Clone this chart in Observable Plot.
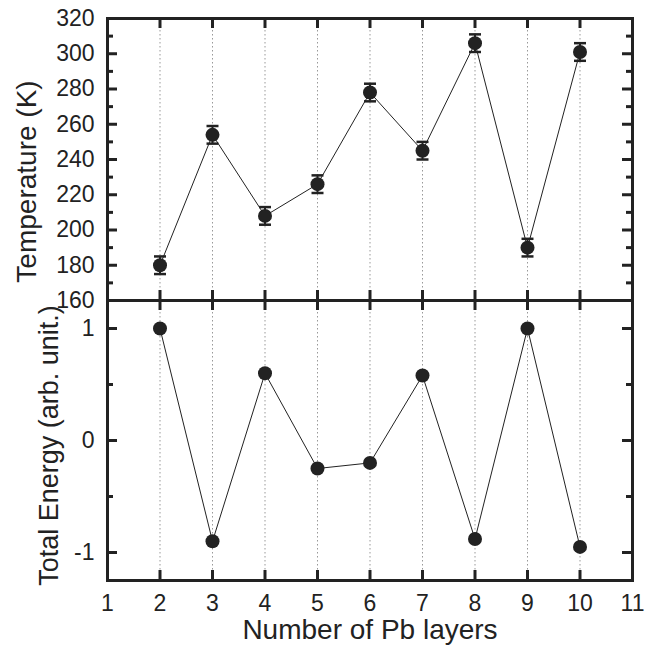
<!DOCTYPE html>
<html>
<head>
<meta charset="utf-8">
<script src="https://cdn.jsdelivr.net/npm/d3@7"></script>
<script src="https://cdn.jsdelivr.net/npm/@observablehq/plot@0.6"></script>
<style>
  html, body { margin: 0; padding: 0; background: white; }
  #chart { position: relative; width: 650px; height: 645px; }
  #chart svg { position: absolute; left: 0; }
</style>
</head>
<body>
<div id="chart"></div>
<script>
// ---- data ----
const layers = [2, 3, 4, 5, 6, 7, 8, 9, 10];
const temperature = [180, 254, 208, 226, 278, 245, 306, 190, 301];
const tempError = [5, 5, 5, 5, 5, 5, 5, 5, 5];
const energy = [1, -0.9, 0.6, -0.25, -0.2, 0.58, -0.88, 1, -0.95];

const xTicks = [1, 2, 3, 4, 5, 6, 7, 8, 9, 10, 11];
const tempTicks = [160, 180, 200, 220, 240, 260, 280, 300, 320];
const tempMinor = [170, 190, 210, 230, 250, 270, 290, 310];
const energyTicks = [-1, 0, 1];
const energyMinor = [-0.5, 0.5];

const xLabel = "Number of Pb layers";
const tempLabel = "Temperature (K)";
const energyLabel = "Total Energy (arb. unit.)";

const tempData = layers.map((x, i) => ({x, t: temperature[i], e: tempError[i]}));
const energyData = layers.map((x, i) => ({x, v: energy[i]}));

// ---- style ----
const ink = "#222";
const font = "'Liberation Sans', Arial, Helvetica, sans-serif";
const W = 650, ML = 107, MR = 18;
const FW = W - ML - MR;
const major = 10, minor = 6, tickW = 3;
const tickFont = 23, labelFont = 28;

const capSymbol = {
  draw(context, size) {
    const r = Math.sqrt(size / Math.PI);
    context.moveTo(-r, 0);
    context.lineTo(r, 0);
  }
};

function yTicksMarks(ticks, len) {
  return [
    Plot.tickY(ticks, {y: d => d, insetRight: FW - len, stroke: ink, strokeWidth: tickW}),
    Plot.tickY(ticks, {y: d => d, insetLeft: FW - len, stroke: ink, strokeWidth: tickW})
  ];
}
function xTicksMarks(fh) {
  return [
    Plot.tickX(xTicks, {x: d => d, insetBottom: fh - major, stroke: ink, strokeWidth: tickW}),
    Plot.tickX(xTicks, {x: d => d, insetTop: fh - major, stroke: ink, strokeWidth: tickW})
  ];
}

// ---- top panel ----
const topMT = 18, topH = 300;
const topFH = topH - topMT;
const topPlot = Plot.plot({
  width: W, height: topH,
  marginLeft: ML, marginRight: MR, marginTop: topMT, marginBottom: 0,
  style: {background: "transparent", overflow: "visible", fontFamily: font, color: ink},
  x: {domain: [1, 11], axis: null},
  y: {domain: [160, 320], axis: null},
  marks: [
    Plot.ruleX(layers, {x: d => d, stroke: "#999", strokeWidth: 1, strokeDasharray: "1.5,2.5"}),
    Plot.line(tempData, {x: "x", y: "t", stroke: ink, strokeWidth: 1}),
    Plot.ruleX(tempData, {x: "x", y1: d => d.t - d.e, y2: d => d.t + d.e, stroke: ink, strokeWidth: 2}),
    Plot.dot(tempData, {x: "x", y: d => d.t + d.e, symbol: capSymbol, r: 6, fill: "none", stroke: ink, strokeWidth: 2.5}),
    Plot.dot(tempData, {x: "x", y: d => d.t - d.e, symbol: capSymbol, r: 6, fill: "none", stroke: ink, strokeWidth: 2.5}),
    Plot.dot(tempData, {x: "x", y: "t", r: 7, fill: ink, stroke: null}),
    ...yTicksMarks(tempTicks, major),
    ...yTicksMarks(tempMinor, minor),
    ...xTicksMarks(topFH),
    Plot.axisY(tempTicks, {tickSize: 0, tickPadding: 13, fontSize: tickFont, label: null}),
    Plot.frame({stroke: ink, strokeWidth: 3}),
    Plot.text([tempLabel], {frameAnchor: "left", textAnchor: "middle", lineAnchor: "middle", text: d => d, rotate: -90, dx: -80, dy: 22, fontSize: labelFont, fill: ink})
  ]
});

// ---- bottom panel ----
const botH = 345, botMB = 65;
const botFH = botH - botMB;
const bottomPlot = Plot.plot({
  width: W, height: botH,
  marginLeft: ML, marginRight: MR, marginTop: 0, marginBottom: botMB,
  style: {background: "transparent", overflow: "visible", fontFamily: font, color: ink},
  x: {domain: [1, 11], axis: null},
  y: {domain: [-1.25, 1.25], axis: null},
  marks: [
    Plot.ruleX(layers, {x: d => d, stroke: "#999", strokeWidth: 1, strokeDasharray: "1.5,2.5"}),
    Plot.line(energyData, {x: "x", y: "v", stroke: ink, strokeWidth: 1}),
    Plot.dot(energyData, {x: "x", y: "v", r: 7, fill: ink, stroke: null}),
    ...yTicksMarks(energyTicks, major),
    ...yTicksMarks(energyMinor, minor),
    ...xTicksMarks(botFH),
    Plot.axisY(energyTicks, {tickSize: 0, tickPadding: 13, fontSize: tickFont, label: null, tickFormat: d => String(d)}),
    Plot.axisX(xTicks, {tickSize: 0, tickPadding: 14, fontSize: tickFont, label: null, tickFormat: d => String(d)}),
    Plot.frame({stroke: ink, strokeWidth: 3}),
    Plot.text([energyLabel], {frameAnchor: "left", textAnchor: "middle", lineAnchor: "middle", text: d => d, rotate: -90, dx: -58, dy: 5, fontSize: 27, fill: ink}),
    Plot.text([xLabel], {frameAnchor: "bottom", textAnchor: "middle", lineAnchor: "middle", text: d => d, dy: 50, fontSize: labelFont, fill: ink})
  ]
});

const chart = document.getElementById("chart");
bottomPlot.style.top = "300px";
topPlot.style.top = "0px";
chart.appendChild(bottomPlot);
chart.appendChild(topPlot);
</script>
</body>
</html>
